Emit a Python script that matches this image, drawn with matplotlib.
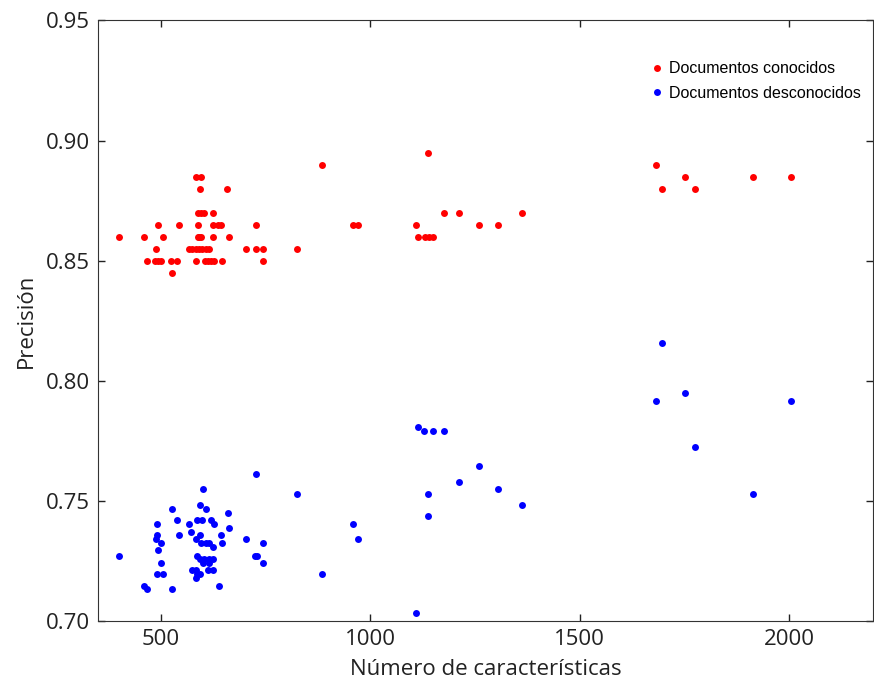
import matplotlib
matplotlib.use("Agg")
import matplotlib.pyplot as plt

# Documentos conocidos (rojo)
known_x = [1138,
           884, 1681,
           583, 597, 1752, 1913, 2003,
           594, 659, 1697, 1776,
           590, 597, 604, 624, 1176, 1212, 1361,
           494, 544, 589, 624, 636, 643, 727, 958, 971, 1110, 1260, 1305,
           401, 460, 505, 588, 592, 597, 624, 662, 1114, 1130, 1140, 1150,
           488, 567, 575, 583, 591, 599, 607, 615, 704, 727, 745, 825,
           467, 486, 493, 500, 525, 538, 583, 605, 612, 619, 627, 646, 744,
           526]
known_y = [0.895,
           0.89, 0.89,
           0.885, 0.885, 0.885, 0.885, 0.885,
           0.88, 0.88, 0.88, 0.88,
           0.87, 0.87, 0.87, 0.87, 0.87, 0.87, 0.87,
           0.865, 0.865, 0.865, 0.865, 0.865, 0.865, 0.865, 0.865, 0.865, 0.865, 0.865, 0.865,
           0.86, 0.86, 0.86, 0.86, 0.86, 0.86, 0.86, 0.86, 0.86, 0.86, 0.86, 0.86,
           0.855, 0.855, 0.855, 0.855, 0.855, 0.855, 0.855, 0.855, 0.855, 0.855, 0.855, 0.855,
           0.85, 0.85, 0.85, 0.85, 0.85, 0.85, 0.85, 0.85, 0.85, 0.85, 0.85, 0.85, 0.85,
           0.845]

# Documentos desconocidos (azul)
unknown_x = [728, 825, 601, 594, 607, 526, 660, 538, 490, 568,
             587, 599, 619, 627, 663, 573, 544, 490, 488, 500,
             583, 593, 595, 609, 614, 643, 646, 625, 704, 744,
             494, 401, 586, 593, 603, 615, 625, 726, 730, 744,
             500, 600, 614, 492, 505, 574, 583, 587, 593, 583,
             612, 625, 460, 467, 526, 639,
             1114, 1128, 1150, 1176, 1260, 1212, 1138, 1305, 1361, 1138,
             959, 971, 884, 1110,
             1697, 1681, 1752, 2003, 1776, 1913]
unknown_y = [0.7612, 0.7529, 0.7550, 0.7483, 0.7467, 0.7467, 0.7450, 0.7418, 0.7404, 0.7404,
             0.7418, 0.7418, 0.7418, 0.7404, 0.7388, 0.7371, 0.7356, 0.7356, 0.7340, 0.7325,
             0.7340, 0.7356, 0.7325, 0.7325, 0.7325, 0.7356, 0.7325, 0.7308, 0.7340, 0.7325,
             0.7293, 0.7272, 0.7272, 0.7256, 0.7256, 0.7256, 0.7256, 0.7272, 0.7272, 0.7240,
             0.7240, 0.7240, 0.7240, 0.7193, 0.7193, 0.7210, 0.7210, 0.7193, 0.7193, 0.7178,
             0.7210, 0.7210, 0.7147, 0.7132, 0.7132, 0.7147,
             0.7807, 0.7790, 0.7790, 0.7790, 0.7643, 0.7580, 0.7529, 0.7550, 0.7482, 0.7435,
             0.7403, 0.7340, 0.7195, 0.7033,
             0.8157, 0.7916, 0.7947, 0.7916, 0.7722, 0.7529]

plt.rcParams["font.family"] = ["Open Sans", "DejaVu Sans"]

fig = plt.figure(figsize=(8.74, 6.83), dpi=100)
ax = fig.add_axes([0.112, 0.091, 0.887, 0.879])

ax.plot(known_x, known_y, "o", color="red", ms=5, mew=0,
        label="Documentos conocidos")
ax.plot(unknown_x, unknown_y, "o", color="blue", ms=5, mew=0,
        label="Documentos desconocidos")

ax.set_xlim(350, 2200)
ax.set_ylim(0.70, 0.95)
ax.set_xticks([500, 1000, 1500, 2000])
ax.set_yticks([0.70, 0.75, 0.80, 0.85, 0.90, 0.95])
ax.set_yticklabels(["0.70", "0.75", "0.80", "0.85", "0.90", "0.95"])
ax.tick_params(direction="in", length=5, width=1, top=True, right=True,
               labelsize=16, colors="#222222", pad=6)
for sp in ax.spines.values():
    sp.set_color("#333333")

ax.set_xlabel("Número de características", fontsize=16, color="#222222", labelpad=6)
ax.set_ylabel("Precisión", fontsize=16, color="#222222", labelpad=6)

leg = ax.legend(loc="upper left", bbox_to_anchor=(0.697, 0.956), frameon=False,
                numpoints=1, handlelength=0.6, handletextpad=0.4,
                labelspacing=0.6, prop={"family": "Liberation Sans", "size": 11.5})

fig.savefig("out.png", dpi=100)
